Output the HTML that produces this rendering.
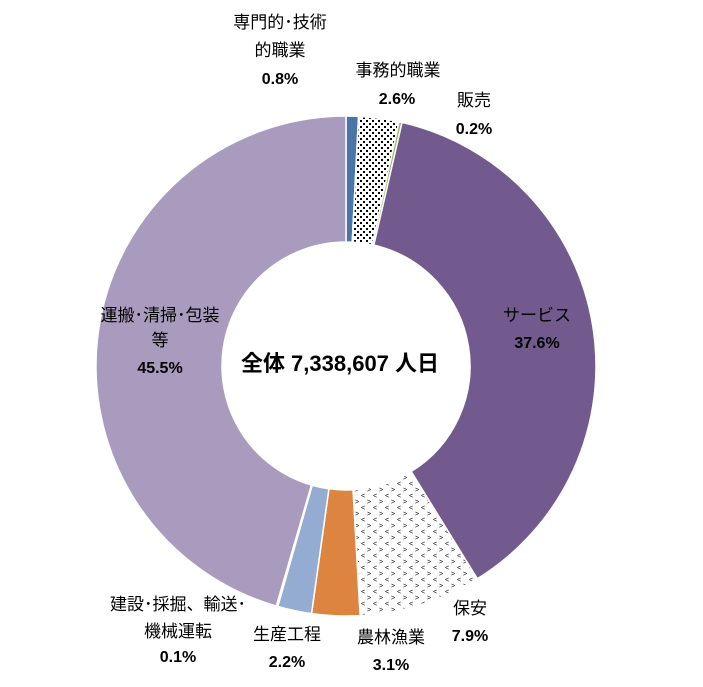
<!DOCTYPE html>
<html><head><meta charset="utf-8"><style>
body{margin:0;background:#fff}
svg text{font-family:"Liberation Sans","Noto Sans CJK JP",sans-serif;fill:#000}
.l{font-size:17px}.p{font-size:16px;font-weight:bold}
</style></head><body>
<svg id="c" width="703" height="682" viewBox="0 0 703 682">
<defs>
<pattern id="dots" width="6" height="6" patternUnits="userSpaceOnUse"><rect width="6" height="6" fill="#fff"/><rect x="0" y="0" width="2" height="2" fill="#000"/><rect x="3" y="3" width="2" height="2" fill="#000"/></pattern>
<pattern id="chev" width="12" height="12" patternUnits="userSpaceOnUse"><rect width="12" height="12" fill="#fff"/><text x="1" y="6" style="font-size:7px">&lt;</text><text x="7" y="12" style="font-size:7px">&gt;</text></pattern>
</defs>
<g id="slices"></g>
<text x="340" y="371" text-anchor="middle" style="font-size:22px;font-weight:bold">全体 7,338,607 人日</text>
<g>
<text class="l" x="280" y="28" text-anchor="middle">専門的･技術</text>
<text class="l" x="280" y="56" text-anchor="middle">的職業</text>
<text class="p" x="280" y="114" text-anchor="middle" dy="-30">0.8%</text>
<text class="l" x="398" y="76" text-anchor="middle">事務的職業</text>
<text class="p" x="397" y="104" text-anchor="middle">2.6%</text>
<text class="l" x="474" y="106" text-anchor="middle">販売</text>
<text class="p" x="474" y="134" text-anchor="middle">0.2%</text>
<text class="l" x="537" y="321" text-anchor="middle">サービス</text>
<text class="p" x="537" y="348" text-anchor="middle">37.6%</text>
<text class="l" x="160" y="321" text-anchor="middle">運搬･清掃･包装</text>
<text class="l" x="160" y="346" text-anchor="middle">等</text>
<text class="p" x="160" y="373" text-anchor="middle">45.5%</text>
<text class="l" x="470" y="614" text-anchor="middle">保安</text>
<text class="p" x="470" y="641" text-anchor="middle">7.9%</text>
<text class="l" x="391" y="643" text-anchor="middle">農林漁業</text>
<text class="p" x="391" y="670" text-anchor="middle">3.1%</text>
<text class="l" x="287" y="640" text-anchor="middle">生産工程</text>
<text class="p" x="287" y="667" text-anchor="middle">2.2%</text>
<text class="l" x="178" y="610" text-anchor="middle">建設･採掘、輸送･</text>
<text class="l" x="178" y="637" text-anchor="middle">機械運転</text>
<text class="p" x="178" y="662" text-anchor="middle">0.1%</text>
</g>
</svg>
<script>
const categories=["専門的・技術的職業","事務的職業","販売","サービス","保安","農林漁業","生産工程","建設・採掘、輸送・機械運転","運搬・清掃・包装等"];
const values=[0.8,2.6,0.2,37.6,7.9,3.1,2.2,0.1,45.5];
const fills=["#4a74a8","url(#dots)","#9bbb59","#725a8f","url(#chev)","#dd8440","#94abd2","#c3d69b","#a99bbd"];
const cx=346,cy=366,ro=250,ri=124;
const total=values.reduce((a,b)=>a+b,0);
const g=document.getElementById('slices');
function pt(a,r){return [cx+r*Math.sin(a),cy-r*Math.cos(a)];}
let acc=0;
values.forEach((v,i)=>{
  const a0=acc/total*2*Math.PI;acc+=v;const a1=acc/total*2*Math.PI;
  const lg=(a1-a0)>Math.PI?1:0;
  const p1=pt(a0,ro),p2=pt(a1,ro),p3=pt(a1,ri),p4=pt(a0,ri);
  const p=document.createElementNS('http://www.w3.org/2000/svg','path');
  p.setAttribute('d',`M${p1}A${ro},${ro} 0 ${lg} 1 ${p2}L${p3}A${ri},${ri} 0 ${lg} 0 ${p4}Z`);
  p.setAttribute('fill',fills[i]);
  p.setAttribute('stroke','#fff');
  p.setAttribute('stroke-width','1.5');
  
  
  g.appendChild(p);
});
</script>
</body></html>
